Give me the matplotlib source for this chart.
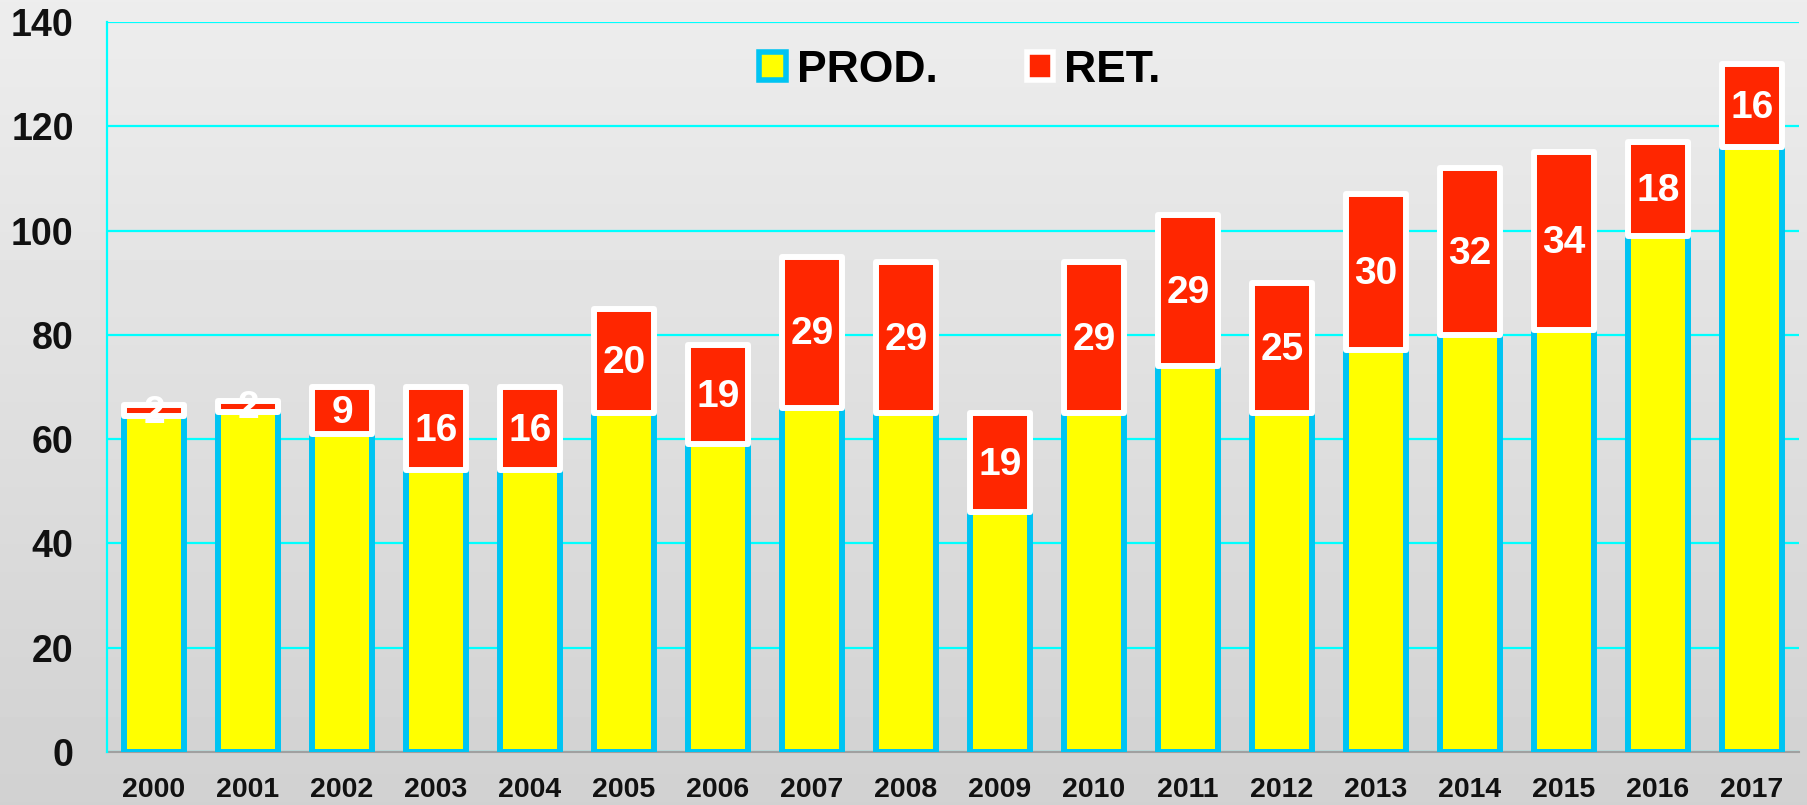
import numpy as np
import matplotlib
matplotlib.use('Agg')
import matplotlib.pyplot as plt
from matplotlib.patches import Patch

plt.rcParams['font.family'] = ['Liberation Sans', 'DejaVu Sans']
plt.rcParams['font.weight'] = 'bold'

years = ['2000', '2001', '2002', '2003', '2004', '2005', '2006', '2007', '2008',
         '2009', '2010', '2011', '2012', '2013', '2014', '2015', '2016', '2017']
prod = [64.5, 65.3, 61, 54, 54, 65, 59, 66, 65, 46, 65, 74, 65, 77, 80, 81, 99, 116]
ret = [2, 2, 9, 16, 16, 20, 19, 29, 29, 19, 29, 29, 25, 30, 32, 34, 18, 16]
ret_labels = ['2', '2', '9', '16', '16', '20', '19', '29', '29', '19', '29', '29',
              '25', '30', '32', '34', '18', '16']

yellow = '#ffff00'
cyan_edge = '#00c4f2'
red = '#ff2600'
grid_col = '#00ffff'

fig = plt.figure(figsize=(18.08, 8.05), dpi=100)

# gradient background
bg = fig.add_axes([0, 0, 1, 1], zorder=-10)
grad = np.linspace(0.93, 0.82, 256).reshape(-1, 1)
bg.imshow(grad, aspect='auto', cmap='gray', vmin=0, vmax=1, extent=[0, 1, 0, 1])
bg.axis('off')

ax = fig.add_axes([107 / 1808, 1 - 752 / 805, (1799 - 107) / 1808, (752 - 22) / 805])
ax.set_facecolor('none')

x = np.arange(len(years))
w = 0.64
ax.bar(x, prod, w, color=yellow, edgecolor=cyan_edge, linewidth=4.3, zorder=3,
       joinstyle='round')
ax.bar(x, ret, w, bottom=prod, color=red, edgecolor='white', linewidth=4.3, zorder=4,
       joinstyle='round')

for i in range(len(years)):
    ax.text(x[i], prod[i] + ret[i] / 2 - 0.4, ret_labels[i], ha='center', va='center',
            color='white', fontsize=28, fontweight='bold', zorder=5)

ax.set_xlim(-0.5, len(years) - 0.5)
ax.set_ylim(0, 140)
ax.set_yticks(range(0, 141, 20))
ax.set_xticks(x)
ax.set_xticklabels(years)
ax.tick_params(axis='y', length=0, pad=24, labelsize=27)
ax.tick_params(axis='x', length=0, pad=18, labelsize=20.5)
for lab in ax.get_xticklabels() + ax.get_yticklabels():
    lab.set_fontweight('bold')
    lab.set_color('#111111')

ax.grid(axis='y', color=grid_col, linewidth=1.6, zorder=1)
ax.set_axisbelow(True)
ax.spines['top'].set_visible(False)
ax.spines['right'].set_visible(False)
ax.spines['left'].set_color(grid_col)
ax.spines['left'].set_linewidth(1.6)
ax.spines['bottom'].set_color('#a0a0a0')
ax.spines['bottom'].set_linewidth(1.5)
ax.spines['bottom'].set_zorder(2)

handles = [Patch(facecolor=yellow, edgecolor=cyan_edge, linewidth=4, label='PROD.'),
           Patch(facecolor=red, edgecolor='white', linewidth=4, label='RET.')]
fig.legend(handles=handles, loc='center', bbox_to_anchor=(960 / 1808, 1 - 70 / 805),
           ncol=2, frameon=False, handlelength=0.6, handleheight=0.6,
           handletextpad=0.25, columnspacing=2.0, prop={'weight': 'bold', 'size': 32})

fig.savefig('out.png', dpi=100)
